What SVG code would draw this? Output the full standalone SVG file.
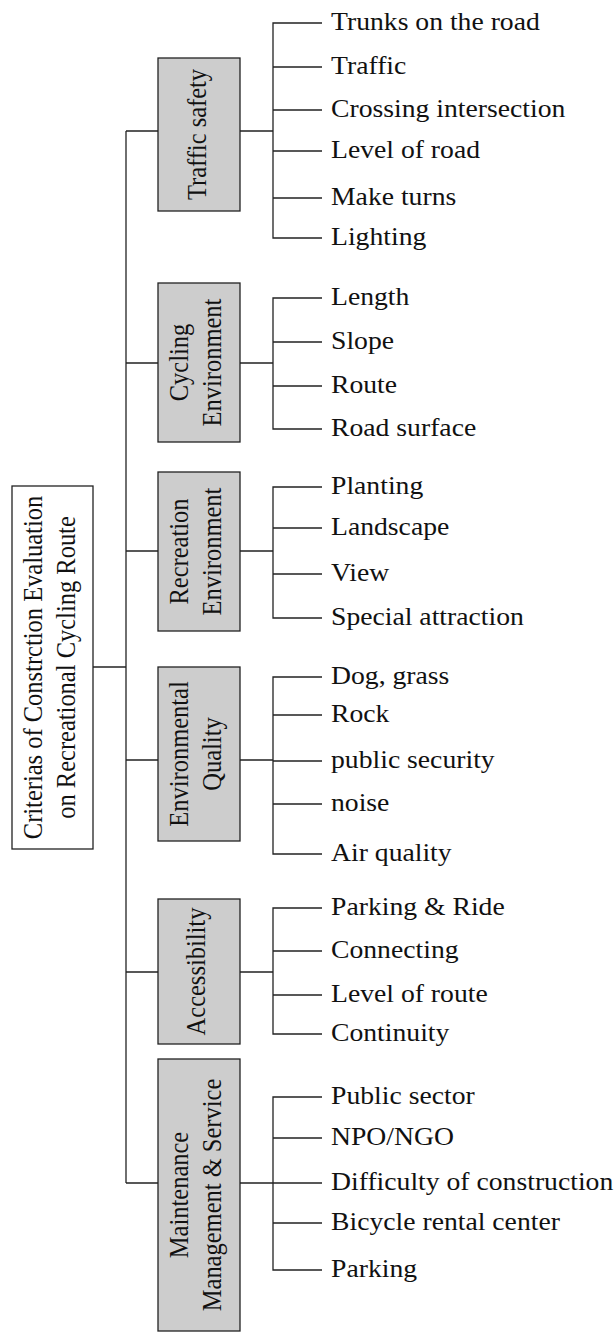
<svg xmlns="http://www.w3.org/2000/svg" width="616" height="1333" viewBox="0 0 616 1333">
<style>
  .bg { fill: #ffffff; }
  .box { fill: #cdcdcd; stroke: #222222; stroke-width: 1.3; }
  .root { fill: #ffffff; stroke: #222222; stroke-width: 1.3; }
  .ln { fill: none; stroke: #222222; stroke-width: 1.3; }
  text { font-family: "Liberation Serif", "Times New Roman", serif; font-size: 24.5px; fill: #111111; }
  .v { text-anchor: middle; }
</style>
<rect class="bg" x="0" y="0" width="616" height="1333"/>

<g id="connectors">
  <!-- trunk -->
  <path class="ln" d="M126 131 V1183"/>
  <path class="ln" d="M93 667 H126"/>
  <path class="ln" d="M126 131 H158 M126 363 H158 M126 551 H158 M126 760 H158 M126 972 H158 M126 1183 H158"/>
  <!-- box to bracket -->
  <path class="ln" d="M240 131 H273 M240 363 H273 M240 551 H273 M240 760 H273 M240 972 H273 M240 1183 H273"/>
  <!-- brackets -->
  <path class="ln" d="M322 23 H273 V238 H322 M273 67 H322 M273 110 H322 M273 151 H322 M273 198 H322"/>
  <path class="ln" d="M322 298 H273 V429 H322 M273 342 H322 M273 386 H322"/>
  <path class="ln" d="M322 487 H273 V618 H322 M273 528 H322 M273 574 H322"/>
  <path class="ln" d="M322 677 H273 V854 H322 M273 715 H322 M273 761 H322 M273 804 H322"/>
  <path class="ln" d="M322 908 H273 V1034 H322 M273 951 H322 M273 995 H322"/>
  <path class="ln" d="M322 1097 H273 V1270 H322 M273 1138 H322 M273 1183 H322 M273 1223 H322"/>
</g>

<g id="root">
  <rect class="root" x="12" y="486" width="81" height="363"/>
  <text class="v" transform="translate(52.5 667.5) scale(1.13 1) rotate(-90)"><tspan x="0" y="-9.5">Criterias of Constrction Evaluation</tspan><tspan x="0" y="19.5">on Recreational Cycling Route</tspan></text>
</g>

<g id="traffic-safety">
  <rect class="box" x="158" y="58" width="82" height="153"/>
  <text class="v" transform="translate(199 134.5) scale(1.13 1) rotate(-90)" y="6">Traffic safety</text>
</g>
<g id="cycling-environment">
  <rect class="box" x="158" y="283" width="82" height="159"/>
  <text class="v" transform="translate(199 362.5) scale(1.13 1) rotate(-90)"><tspan x="0" y="-9.5">Cycling</tspan><tspan x="0" y="19.5">Environment</tspan></text>
</g>
<g id="recreation-environment">
  <rect class="box" x="158" y="472" width="82" height="159"/>
  <text class="v" transform="translate(199 551.5) scale(1.13 1) rotate(-90)"><tspan x="0" y="-9.5">Recreation</tspan><tspan x="0" y="19.5">Environment</tspan></text>
</g>
<g id="environmental-quality">
  <rect class="box" x="158" y="667" width="82" height="174"/>
  <text class="v" transform="translate(199 754) scale(1.13 1) rotate(-90)"><tspan x="0" y="-9.5">Environmental</tspan><tspan x="0" y="19.5">Quality</tspan></text>
</g>
<g id="accessibility">
  <rect class="box" x="158" y="899" width="82" height="145"/>
  <text class="v" transform="translate(199 971.5) scale(1.13 1) rotate(-90)" y="5.5">Accessibility</text>
</g>
<g id="maintenance">
  <rect class="box" x="158" y="1059" width="82" height="272"/>
  <text class="v" transform="translate(199 1195) scale(1.13 1) rotate(-90)"><tspan x="0" y="-9.5">Maintenance</tspan><tspan x="0" y="19.5">Management &amp; Service</tspan></text>
</g>

<g id="leaf-trunks"><text transform="translate(331 30) scale(1.13 1)">Trunks on the road</text></g>
<g id="leaf-traffic"><text transform="translate(331 74) scale(1.13 1)">Traffic</text></g>
<g id="leaf-crossing"><text transform="translate(331 117) scale(1.13 1)">Crossing intersection</text></g>
<g id="leaf-level-road"><text transform="translate(331 158) scale(1.13 1)">Level of road</text></g>
<g id="leaf-make-turns"><text transform="translate(331 205) scale(1.13 1)">Make turns</text></g>
<g id="leaf-lighting"><text transform="translate(331 245) scale(1.13 1)">Lighting</text></g>

<g id="leaf-length"><text transform="translate(331 305) scale(1.13 1)">Length</text></g>
<g id="leaf-slope"><text transform="translate(331 349) scale(1.13 1)">Slope</text></g>
<g id="leaf-route"><text transform="translate(331 393) scale(1.13 1)">Route</text></g>
<g id="leaf-road-surface"><text transform="translate(331 436) scale(1.13 1)">Road surface</text></g>

<g id="leaf-planting"><text transform="translate(331 494) scale(1.13 1)">Planting</text></g>
<g id="leaf-landscape"><text transform="translate(331 535) scale(1.13 1)">Landscape</text></g>
<g id="leaf-view"><text transform="translate(331 581) scale(1.13 1)">View</text></g>
<g id="leaf-special"><text transform="translate(331 625) scale(1.13 1)">Special attraction</text></g>

<g id="leaf-dog"><text transform="translate(331 684) scale(1.13 1)">Dog, grass</text></g>
<g id="leaf-rock"><text transform="translate(331 722) scale(1.13 1)">Rock</text></g>
<g id="leaf-security"><text transform="translate(331 768) scale(1.13 1)">public security</text></g>
<g id="leaf-noise"><text transform="translate(331 811) scale(1.13 1)">noise</text></g>
<g id="leaf-air"><text transform="translate(331 861) scale(1.13 1)">Air quality</text></g>

<g id="leaf-park-ride"><text transform="translate(331 915) scale(1.13 1)">Parking &amp; Ride</text></g>
<g id="leaf-connecting"><text transform="translate(331 958) scale(1.13 1)">Connecting</text></g>
<g id="leaf-level-route"><text transform="translate(331 1002) scale(1.13 1)">Level of route</text></g>
<g id="leaf-continuity"><text transform="translate(331 1041) scale(1.13 1)">Continuity</text></g>

<g id="leaf-public"><text transform="translate(331 1104) scale(1.13 1)">Public sector</text></g>
<g id="leaf-npo"><text transform="translate(331 1145) scale(1.13 1)">NPO/NGO</text></g>
<g id="leaf-difficulty"><text transform="translate(331 1190) scale(1.13 1)">Difficulty of construction</text></g>
<g id="leaf-bicycle"><text transform="translate(331 1230) scale(1.13 1)">Bicycle rental center</text></g>
<g id="leaf-parking"><text transform="translate(331 1277) scale(1.13 1)">Parking</text></g>
</svg>
